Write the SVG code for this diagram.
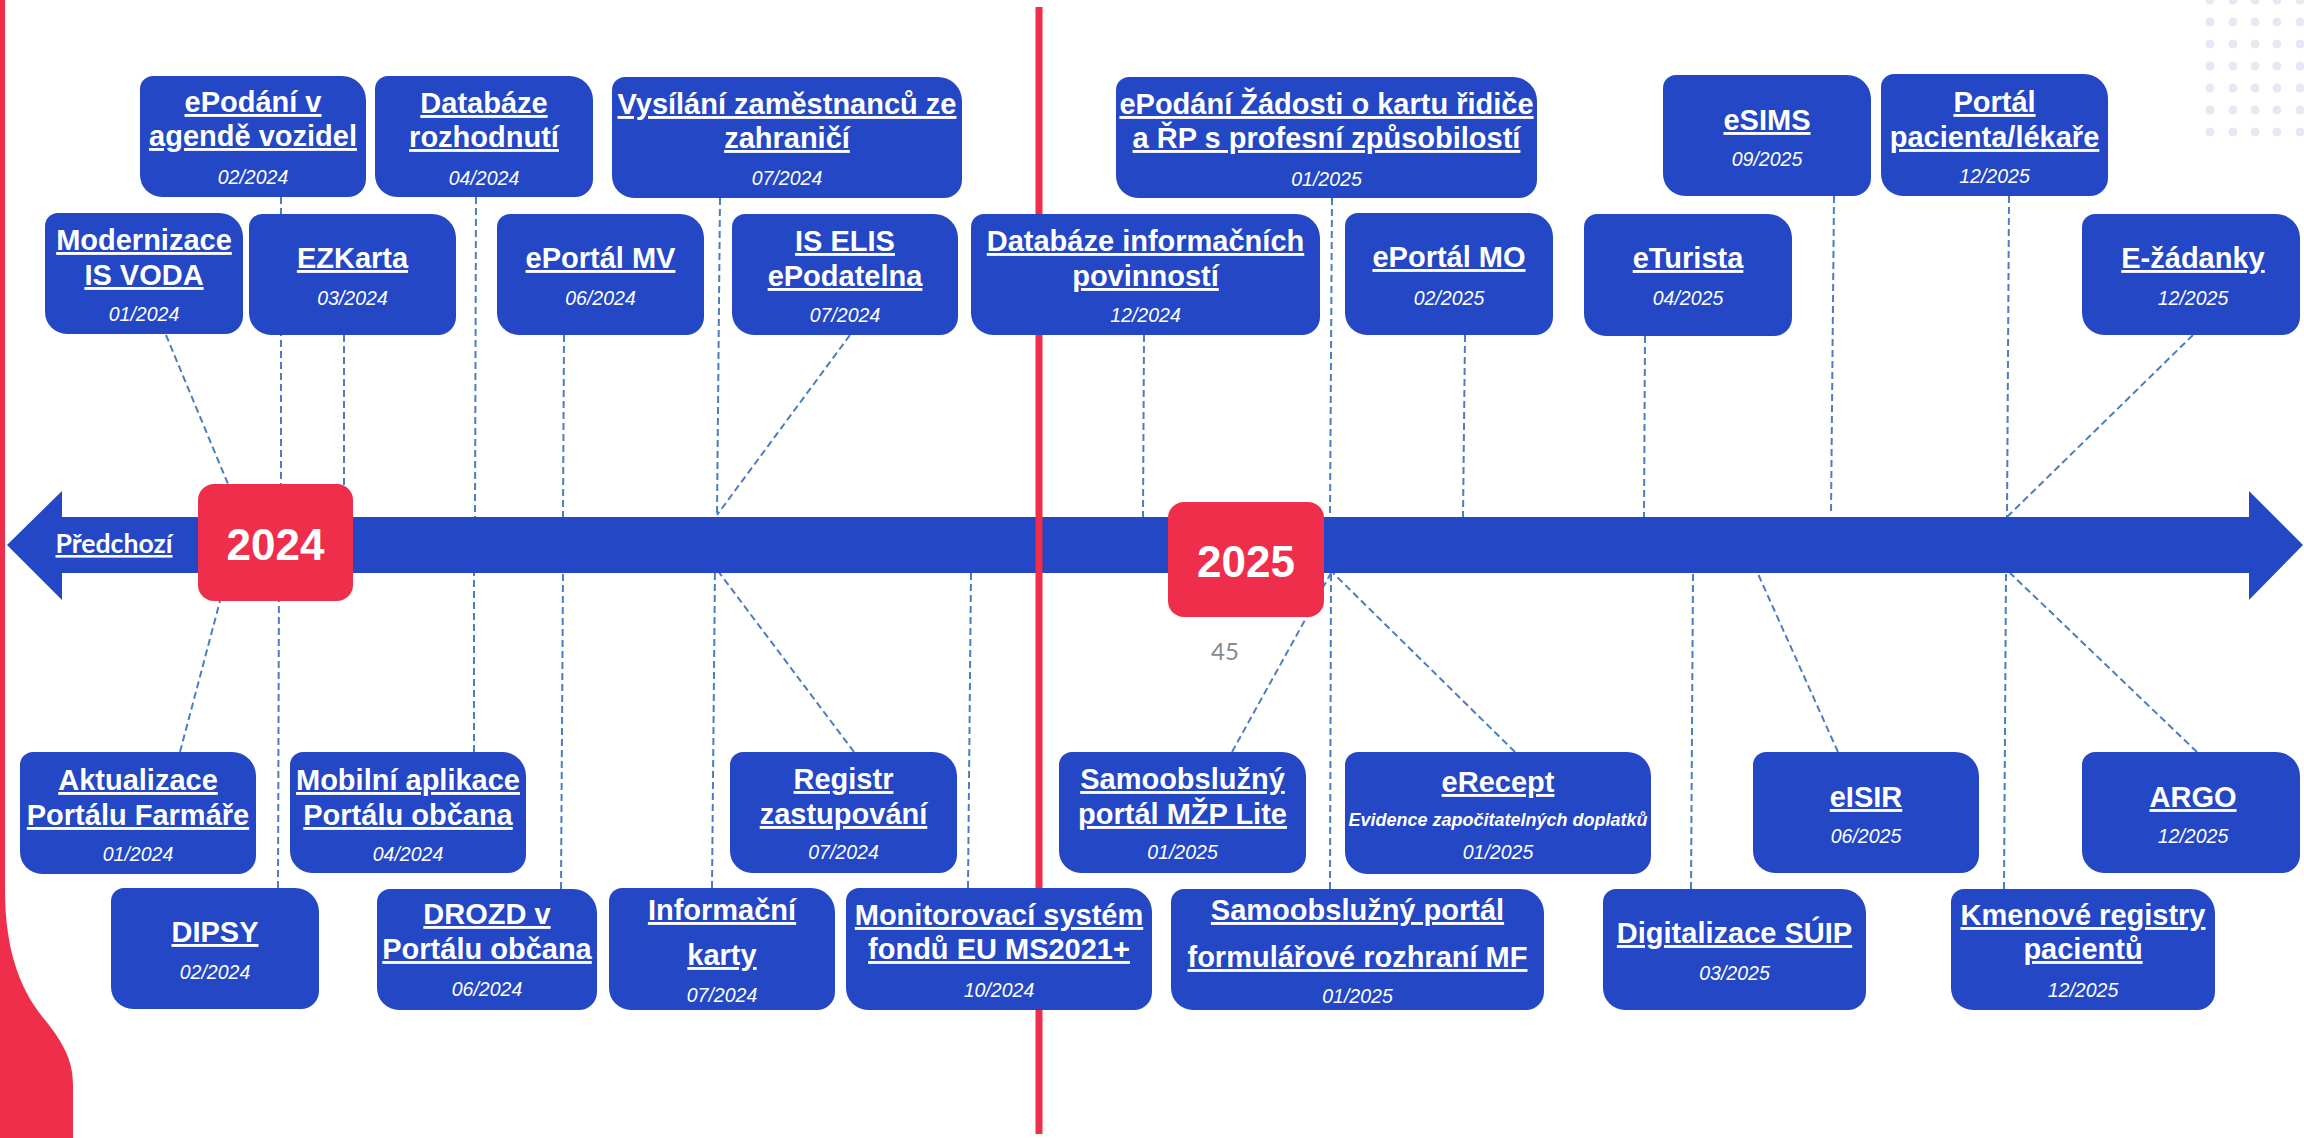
<svg xmlns="http://www.w3.org/2000/svg" width="2304" height="1138" viewBox="0 0 2304 1138">
<style>
.box{fill:#2347C5}
.t{font-family:"Liberation Sans",Arial,sans-serif;font-weight:bold;font-size:29px;fill:#fff;text-anchor:middle;text-decoration:underline}
.d{font-family:"Liberation Sans",Arial,sans-serif;font-style:italic;font-size:19.5px;fill:#fff;text-anchor:middle}
.s{font-family:"Liberation Sans",Arial,sans-serif;font-style:italic;font-weight:bold;font-size:18px;fill:#fff;text-anchor:middle}
.c{fill:none;stroke:#4A7DC2;stroke-width:2;stroke-dasharray:7 4}
.yr{fill:#EE2E4A}
.yt{font-family:"Liberation Sans",Arial,sans-serif;font-weight:bold;font-size:44px;fill:#fff;text-anchor:middle}
.dot{fill:#E8E8F5}
</style>
<rect width="2304" height="1138" fill="#fff"/>
<path d="M0,0 H5 V890 C5,950 20,990 45,1020 C65,1045 73,1062 73,1085 V1138 H0 Z" fill="#EE2E4A"/>
<g id="dots">
<circle class="dot" cx="2210" cy="0" r="4.5"/><circle class="dot" cx="2233" cy="0" r="4.5"/><circle class="dot" cx="2255" cy="0" r="4.5"/><circle class="dot" cx="2277" cy="0" r="4.5"/><circle class="dot" cx="2300" cy="0" r="4.5"/>
<circle class="dot" cx="2210" cy="22" r="4.5"/><circle class="dot" cx="2233" cy="22" r="4.5"/><circle class="dot" cx="2255" cy="22" r="4.5"/><circle class="dot" cx="2277" cy="22" r="4.5"/><circle class="dot" cx="2300" cy="22" r="4.5"/>
<circle class="dot" cx="2210" cy="44" r="4.5"/><circle class="dot" cx="2233" cy="44" r="4.5"/><circle class="dot" cx="2255" cy="44" r="4.5"/><circle class="dot" cx="2277" cy="44" r="4.5"/><circle class="dot" cx="2300" cy="44" r="4.5"/>
<circle class="dot" cx="2210" cy="66" r="4.5"/><circle class="dot" cx="2233" cy="66" r="4.5"/><circle class="dot" cx="2255" cy="66" r="4.5"/><circle class="dot" cx="2277" cy="66" r="4.5"/><circle class="dot" cx="2300" cy="66" r="4.5"/>
<circle class="dot" cx="2210" cy="88" r="4.5"/><circle class="dot" cx="2233" cy="88" r="4.5"/><circle class="dot" cx="2255" cy="88" r="4.5"/><circle class="dot" cx="2277" cy="88" r="4.5"/><circle class="dot" cx="2300" cy="88" r="4.5"/>
<circle class="dot" cx="2210" cy="110" r="4.5"/><circle class="dot" cx="2233" cy="110" r="4.5"/><circle class="dot" cx="2255" cy="110" r="4.5"/><circle class="dot" cx="2277" cy="110" r="4.5"/><circle class="dot" cx="2300" cy="110" r="4.5"/>
<circle class="dot" cx="2210" cy="132" r="4.5"/><circle class="dot" cx="2233" cy="132" r="4.5"/><circle class="dot" cx="2255" cy="132" r="4.5"/><circle class="dot" cx="2277" cy="132" r="4.5"/><circle class="dot" cx="2300" cy="132" r="4.5"/>
</g>
<g id="connectors">
<line class="c" x1="166" y1="335" x2="228" y2="484"/>
<line class="c" x1="281" y1="197" x2="281" y2="517"/>
<line class="c" x1="344" y1="335" x2="344" y2="517"/>
<line class="c" x1="476" y1="197" x2="475" y2="517"/>
<line class="c" x1="564" y1="335" x2="563" y2="517"/>
<line class="c" x1="720" y1="198" x2="717" y2="515"/>
<line class="c" x1="850" y1="335" x2="717" y2="515"/>
<line class="c" x1="1144" y1="335" x2="1143" y2="517"/>
<line class="c" x1="1332" y1="198" x2="1330" y2="517"/>
<line class="c" x1="1465" y1="335" x2="1463" y2="517"/>
<line class="c" x1="1645" y1="336" x2="1644" y2="517"/>
<line class="c" x1="1834" y1="196" x2="1831" y2="515"/>
<line class="c" x1="2009" y1="196" x2="2007" y2="517"/>
<line class="c" x1="2193" y1="335" x2="2007" y2="517"/>
<line class="c" x1="180" y1="752" x2="220" y2="601"/>
<line class="c" x1="278" y1="888" x2="279" y2="573"/>
<line class="c" x1="474" y1="752" x2="474" y2="573"/>
<line class="c" x1="561" y1="889" x2="563" y2="573"/>
<line class="c" x1="712" y1="888" x2="715" y2="567"/>
<line class="c" x1="854" y1="752" x2="715" y2="567"/>
<line class="c" x1="968" y1="888" x2="971" y2="573"/>
<line class="c" x1="1232" y1="752" x2="1331" y2="573"/>
<line class="c" x1="1330" y1="889" x2="1331" y2="573"/>
<line class="c" x1="1515" y1="752" x2="1333" y2="573"/>
<line class="c" x1="1691" y1="889" x2="1693" y2="573"/>
<line class="c" x1="1838" y1="752" x2="1754" y2="565"/>
<line class="c" x1="2004" y1="889" x2="2006" y2="573"/>
<line class="c" x1="2197" y1="752" x2="2010" y2="573"/>
</g>
<g id="timeline">
<polygon points="7,545 62,491 62,517 2249,517 2249,491 2303,545 2249,600 2249,573 62,573 62,600" fill="#2347C5"/>
<text x="114" y="553" font-family="Lato,'Open Sans',sans-serif" font-weight="bold" font-size="26" fill="#fff" text-anchor="middle" text-decoration="underline" textLength="117" lengthAdjust="spacingAndGlyphs">Předchozí</text>
</g>
<rect id="divider" x="1035.5" y="7" width="7" height="1127" fill="#EE2E4A"/>
<g id="y2024"><rect class="yr" x="198" y="484" width="155" height="117" rx="16"/><text class="yt" x="275.5" y="560">2024</text></g>
<g id="y2025"><rect class="yr" x="1168" y="502" width="156" height="115" rx="16"/><text class="yt" x="1246" y="577">2025</text></g>
<text id="pagenum" x="1225" y="660" font-family="Lato,'Open Sans',sans-serif" font-size="24" fill="#8a8a8a" text-anchor="middle">45</text>

<g id="n1"><path class="box" d="M153,76 H342 A24 24 0 0 1 366,100 V179 A18 18 0 0 1 348,197 H162 A22 22 0 0 1 140,175 V89 A13 13 0 0 1 153,76 Z"/><text class="t" x="253" y="112">ePodání v</text><text class="t" x="253" y="146">agendě vozidel</text><text class="d" x="253" y="184">02/2024</text></g>
<g id="n2"><path class="box" d="M388,76 H569 A24 24 0 0 1 593,100 V179 A18 18 0 0 1 575,197 H397 A22 22 0 0 1 375,175 V89 A13 13 0 0 1 388,76 Z"/><text class="t" x="484" y="113">Databáze</text><text class="t" x="484" y="147">rozhodnutí</text><text class="d" x="484" y="185">04/2024</text></g>
<g id="n3"><path class="box" d="M625,77 H938 A24 24 0 0 1 962,101 V180 A18 18 0 0 1 944,198 H634 A22 22 0 0 1 612,176 V90 A13 13 0 0 1 625,77 Z"/><text class="t" x="787" y="114">Vysílání zaměstnanců ze</text><text class="t" x="787" y="148">zahraničí</text><text class="d" x="787" y="185">07/2024</text></g>
<g id="n4"><path class="box" d="M1129,77 H1513 A24 24 0 0 1 1537,101 V180 A18 18 0 0 1 1519,198 H1138 A22 22 0 0 1 1116,176 V90 A13 13 0 0 1 1129,77 Z"/><text class="t" x="1326.5" y="114">ePodání Žádosti o kartu řidiče</text><text class="t" x="1326.5" y="148">a ŘP s profesní způsobilostí</text><text class="d" x="1326.5" y="186">01/2025</text></g>
<g id="n5"><path class="box" d="M1676,75 H1847 A24 24 0 0 1 1871,99 V178 A18 18 0 0 1 1853,196 H1685 A22 22 0 0 1 1663,174 V88 A13 13 0 0 1 1676,75 Z"/><text class="t" x="1767" y="130">eSIMS</text><text class="d" x="1767" y="166">09/2025</text></g>
<g id="n6"><path class="box" d="M1894,74 H2084 A24 24 0 0 1 2108,98 V178 A18 18 0 0 1 2090,196 H1903 A22 22 0 0 1 1881,174 V87 A13 13 0 0 1 1894,74 Z"/><text class="t" x="1994.5" y="112">Portál</text><text class="t" x="1994.5" y="147">pacienta/lékaře</text><text class="d" x="1994.5" y="183">12/2025</text></g>
<g id="n7"><path class="box" d="M58,213 H219 A24 24 0 0 1 243,237 V316 A18 18 0 0 1 225,334 H67 A22 22 0 0 1 45,312 V226 A13 13 0 0 1 58,213 Z"/><text class="t" x="144" y="250">Modernizace</text><text class="t" x="144" y="285">IS VODA</text><text class="d" x="144" y="321">01/2024</text></g>
<g id="n8"><path class="box" d="M262,214 H432 A24 24 0 0 1 456,238 V317 A18 18 0 0 1 438,335 H271 A22 22 0 0 1 249,313 V227 A13 13 0 0 1 262,214 Z"/><text class="t" x="352.5" y="268">EZKarta</text><text class="d" x="352.5" y="305">03/2024</text></g>
<g id="n9"><path class="box" d="M510,214 H680 A24 24 0 0 1 704,238 V317 A18 18 0 0 1 686,335 H519 A22 22 0 0 1 497,313 V227 A13 13 0 0 1 510,214 Z"/><text class="t" x="600.5" y="268">ePortál MV</text><text class="d" x="600.5" y="305">06/2024</text></g>
<g id="n10"><path class="box" d="M745,214 H934 A24 24 0 0 1 958,238 V317 A18 18 0 0 1 940,335 H754 A22 22 0 0 1 732,313 V227 A13 13 0 0 1 745,214 Z"/><text class="t" x="845" y="251">IS ELIS</text><text class="t" x="845" y="286">ePodatelna</text><text class="d" x="845" y="322">07/2024</text></g>
<g id="n11"><path class="box" d="M984,214 H1296 A24 24 0 0 1 1320,238 V317 A18 18 0 0 1 1302,335 H993 A22 22 0 0 1 971,313 V227 A13 13 0 0 1 984,214 Z"/><text class="t" x="1145.5" y="251">Databáze informačních</text><text class="t" x="1145.5" y="286">povinností</text><text class="d" x="1145.5" y="322">12/2024</text></g>
<g id="n12"><path class="box" d="M1358,213 H1529 A24 24 0 0 1 1553,237 V317 A18 18 0 0 1 1535,335 H1367 A22 22 0 0 1 1345,313 V226 A13 13 0 0 1 1358,213 Z"/><text class="t" x="1449" y="267">ePortál MO</text><text class="d" x="1449" y="305">02/2025</text></g>
<g id="n13"><path class="box" d="M1597,214 H1768 A24 24 0 0 1 1792,238 V318 A18 18 0 0 1 1774,336 H1606 A22 22 0 0 1 1584,314 V227 A13 13 0 0 1 1597,214 Z"/><text class="t" x="1688" y="268">eTurista</text><text class="d" x="1688" y="305">04/2025</text></g>
<g id="n14"><path class="box" d="M2095,214 H2276 A24 24 0 0 1 2300,238 V317 A18 18 0 0 1 2282,335 H2104 A22 22 0 0 1 2082,313 V227 A13 13 0 0 1 2095,214 Z"/><text class="t" x="2193" y="268">E-žádanky</text><text class="d" x="2193" y="305">12/2025</text></g>
<g id="n15"><path class="box" d="M33,752 H232 A24 24 0 0 1 256,776 V856 A18 18 0 0 1 238,874 H42 A22 22 0 0 1 20,852 V765 A13 13 0 0 1 33,752 Z"/><text class="t" x="138" y="790">Aktualizace</text><text class="t" x="138" y="825">Portálu Farmáře</text><text class="d" x="138" y="861">01/2024</text></g>
<g id="n16"><path class="box" d="M303,752 H502 A24 24 0 0 1 526,776 V855 A18 18 0 0 1 508,873 H312 A22 22 0 0 1 290,851 V765 A13 13 0 0 1 303,752 Z"/><text class="t" x="408" y="790">Mobilní aplikace</text><text class="t" x="408" y="825">Portálu občana</text><text class="d" x="408" y="861">04/2024</text></g>
<g id="n17"><path class="box" d="M743,752 H933 A24 24 0 0 1 957,776 V855 A18 18 0 0 1 939,873 H752 A22 22 0 0 1 730,851 V765 A13 13 0 0 1 743,752 Z"/><text class="t" x="843.5" y="789">Registr</text><text class="t" x="843.5" y="824">zastupování</text><text class="d" x="843.5" y="859">07/2024</text></g>
<g id="n18"><path class="box" d="M1072,752 H1282 A24 24 0 0 1 1306,776 V855 A18 18 0 0 1 1288,873 H1081 A22 22 0 0 1 1059,851 V765 A13 13 0 0 1 1072,752 Z"/><text class="t" x="1182.5" y="789">Samoobslužný</text><text class="t" x="1182.5" y="824">portál MŽP Lite</text><text class="d" x="1182.5" y="859">01/2025</text></g>
<g id="n19"><path class="box" d="M1358,752 H1627 A24 24 0 0 1 1651,776 V856 A18 18 0 0 1 1633,874 H1367 A22 22 0 0 1 1345,852 V765 A13 13 0 0 1 1358,752 Z"/><text class="t" x="1498" y="792">eRecept</text><text class="s" x="1498" y="826">Evidence započitatelných doplatků</text><text class="d" x="1498" y="859">01/2025</text></g>
<g id="n20"><path class="box" d="M1766,752 H1955 A24 24 0 0 1 1979,776 V855 A18 18 0 0 1 1961,873 H1775 A22 22 0 0 1 1753,851 V765 A13 13 0 0 1 1766,752 Z"/><text class="t" x="1866" y="807">eISIR</text><text class="d" x="1866" y="843">06/2025</text></g>
<g id="n21"><path class="box" d="M2095,752 H2276 A24 24 0 0 1 2300,776 V855 A18 18 0 0 1 2282,873 H2104 A22 22 0 0 1 2082,851 V765 A13 13 0 0 1 2095,752 Z"/><text class="t" x="2193" y="807">ARGO</text><text class="d" x="2193" y="843">12/2025</text></g>
<g id="n22"><path class="box" d="M124,888 H295 A24 24 0 0 1 319,912 V991 A18 18 0 0 1 301,1009 H133 A22 22 0 0 1 111,987 V901 A13 13 0 0 1 124,888 Z"/><text class="t" x="215" y="942">DIPSY</text><text class="d" x="215" y="979">02/2024</text></g>
<g id="n23"><path class="box" d="M390,889 H573 A24 24 0 0 1 597,913 V992 A18 18 0 0 1 579,1010 H399 A22 22 0 0 1 377,988 V902 A13 13 0 0 1 390,889 Z"/><text class="t" x="487" y="924">DROZD v</text><text class="t" x="487" y="959">Portálu občana</text><text class="d" x="487" y="996">06/2024</text></g>
<g id="n24"><path class="box" d="M622,888 H811 A24 24 0 0 1 835,912 V992 A18 18 0 0 1 817,1010 H631 A22 22 0 0 1 609,988 V901 A13 13 0 0 1 622,888 Z"/><text class="t" x="722" y="920">Informační</text><text class="t" x="722" y="965">karty</text><text class="d" x="722" y="1002">07/2024</text></g>
<g id="n25"><path class="box" d="M859,888 H1128 A24 24 0 0 1 1152,912 V992 A18 18 0 0 1 1134,1010 H868 A22 22 0 0 1 846,988 V901 A13 13 0 0 1 859,888 Z"/><text class="t" x="999" y="925">Monitorovací systém</text><text class="t" x="999" y="959">fondů EU MS2021+</text><text class="d" x="999" y="997">10/2024</text></g>
<g id="n26"><path class="box" d="M1184,889 H1520 A24 24 0 0 1 1544,913 V992 A18 18 0 0 1 1526,1010 H1193 A22 22 0 0 1 1171,988 V902 A13 13 0 0 1 1184,889 Z"/><text class="t" x="1357.5" y="920">Samoobslužný portál</text><text class="t" x="1357.5" y="967">formulářové rozhraní MF</text><text class="d" x="1357.5" y="1003">01/2025</text></g>
<g id="n27"><path class="box" d="M1616,889 H1842 A24 24 0 0 1 1866,913 V992 A18 18 0 0 1 1848,1010 H1625 A22 22 0 0 1 1603,988 V902 A13 13 0 0 1 1616,889 Z"/><text class="t" x="1734.5" y="943">Digitalizace SÚIP</text><text class="d" x="1734.5" y="980">03/2025</text></g>
<g id="n28"><path class="box" d="M1964,889 H2191 A24 24 0 0 1 2215,913 V992 A18 18 0 0 1 2197,1010 H1973 A22 22 0 0 1 1951,988 V902 A13 13 0 0 1 1964,889 Z"/><text class="t" x="2083" y="925">Kmenové registry</text><text class="t" x="2083" y="959">pacientů</text><text class="d" x="2083" y="997">12/2025</text></g>
</svg>
